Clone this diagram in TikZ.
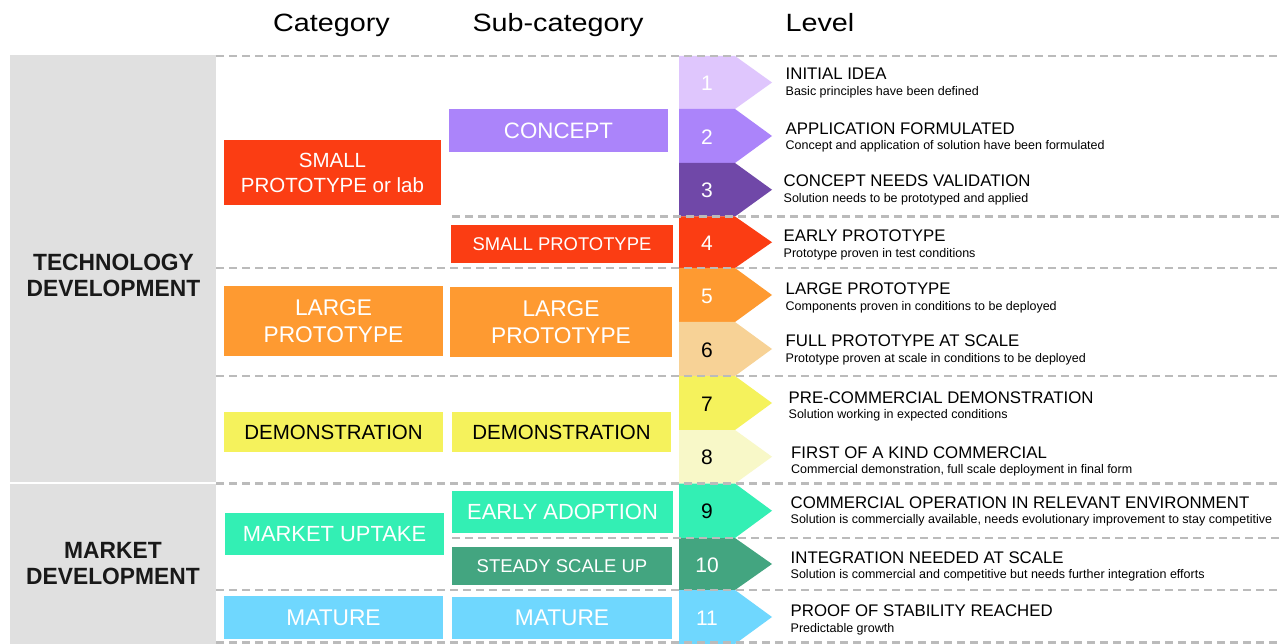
\documentclass[tikz,border=0pt]{standalone}
\usepackage{fontspec}
\setmainfont{Liberation Sans}
\newfontfamily\hdrfont[FakeStretch=1.15]{Liberation Sans}
\newfontfamily\devfont[FakeStretch=0.97]{Liberation Sans}
\definecolor{lv1}{HTML}{DFC6FD}
\definecolor{lv2}{HTML}{AB84FA}
\definecolor{lv3}{HTML}{7048A8}
\definecolor{lv4}{HTML}{FB3D13}
\definecolor{lv5}{HTML}{FE9A31}
\definecolor{lv6}{HTML}{F7D296}
\definecolor{lv7}{HTML}{F5F25C}
\definecolor{lv8}{HTML}{F8F8C8}
\definecolor{lv9}{HTML}{33EFB4}
\definecolor{lv10}{HTML}{43A580}
\definecolor{lv11}{HTML}{6FD7FE}
\definecolor{gcol}{HTML}{E0E0E0}
\definecolor{dashcol}{HTML}{BBBBBB}
\tikzset{
  hdr/.style={anchor=base, inner sep=0pt, font=\hdrfont\fontsize{25}{28}\selectfont},
  devtxt/.style={inner sep=0pt, align=center, font=\devfont\bfseries\fontsize{23.5}{26.5}\selectfont, text=black!90},
  box/.style={inner sep=0pt, outer sep=0pt, align=center, text=white},
  dashline/.style={draw=dashcol, line width=2.2pt, dash pattern=on 8pt off 5pt},
  numtxt/.style={inner sep=0pt, font=\fontsize{21}{21}\selectfont},
  lvltitle/.style={anchor=base west, inner sep=0pt, font=\fontsize{16.8}{18}\selectfont},
  lvlsub/.style={anchor=base west, inner sep=0pt, font=\fontsize{12.5}{14}\selectfont},
}
\newcommand\mylevel[9]{%
  \fill[#4] (679,#2) -- (735,#2) -- (772,{(#2+#3)/2}) -- (735,#3) -- (679,#3) -- cycle;
  \node[numtxt, text=#5] (num#1) at (707,{(#2+#3)/2+1}) {#1};
  \node[lvltitle] (title#1) at (#6,#7) {#8};
  \node[lvlsub] (sub#1) at (#6,#7+15.5) {#9};
}
\begin{document}
\begin{tikzpicture}[x=1pt,y=-1pt]
\useasboundingbox[fill=white] (0,0) rectangle (1280,644);
% headers
\node[hdr] (hcat) at (331.5,32) {Category};
\node[hdr] (hsub) at (558,32) {Sub-category};
\node[hdr] (hlvl) at (820,32) {Level};
% gray columns
\fill[gcol] (10,55) rectangle (216,482);
\fill[gcol] (10,484) rectangle (216,644);
\node[devtxt] (tech) at (113.5,275.5) {TECHNOLOGY\\DEVELOPMENT};
\node[devtxt] (market) at (113,563.5) {MARKET\\DEVELOPMENT};
% levels
\mylevel{1}{56}{109}{lv1}{white}{785.5}{80}{INITIAL IDEA}{Basic principles have been defined}
\mylevel{2}{109}{163}{lv2}{white}{785.5}{134.5}{APPLICATION FORMULATED}{Concept and application of solution have been formulated}
\mylevel{3}{163}{216.5}{lv3}{white}{783.5}{187}{CONCEPT NEEDS VALIDATION}{Solution needs to be prototyped and applied}
\mylevel{4}{216.5}{268}{lv4}{white}{783.5}{242}{EARLY PROTOTYPE}{Prototype proven in test conditions}
\mylevel{5}{268}{322}{lv5}{white}{785.5}{295}{LARGE PROTOTYPE}{Components proven in conditions to be deployed}
\mylevel{6}{322}{376}{lv6}{black}{785.5}{347}{FULL PROTOTYPE AT SCALE}{Prototype proven at scale in conditions to be deployed}
\mylevel{7}{376}{430}{lv7}{black}{788.5}{403}{PRE-COMMERCIAL DEMONSTRATION}{Solution working in expected conditions}
\mylevel{8}{430}{483.5}{lv8}{black}{791}{458}{FIRST OF A KIND COMMERCIAL}{Commercial demonstration, full scale deployment in final form}
\mylevel{9}{483.5}{538}{lv9}{black}{790.5}{508}{COMMERCIAL OPERATION IN RELEVANT ENVIRONMENT}{Solution is commercially available, needs evolutionary improvement to stay competitive}
\mylevel{10}{538}{590}{lv10}{white}{790.5}{563}{INTEGRATION NEEDED AT SCALE}{Solution is commercial and competitive but needs further integration efforts}
\mylevel{11}{590}{644}{lv11}{white}{790.5}{616.5}{PROOF OF STABILITY REACHED}{Predictable growth}
% category boxes
\node[box, fill=lv4, minimum width=217pt, minimum height=65pt, font=\fontsize{20.5}{25}\selectfont] (catsmall) at (332.5,172.5) {SMALL\\PROTOTYPE or lab};
\node[box, fill=lv5, minimum width=219pt, minimum height=70pt, font=\fontsize{22.7}{27}\selectfont] (catlarge) at (333.5,321) {LARGE\\PROTOTYPE};
\node[box, fill=lv7, text=black, minimum width=219pt, minimum height=40pt, font=\fontsize{20.5}{24}\selectfont] (catdemo) at (333.5,432) {DEMONSTRATION};
\node[box, fill=lv9, minimum width=219pt, minimum height=42pt, font=\fontsize{21.9}{24}\selectfont] (catmarket) at (334.5,534) {MARKET UPTAKE};
\node[box, fill=lv11, minimum width=219pt, minimum height=43pt, font=\fontsize{22.7}{24}\selectfont] (catmature) at (333.5,617.5) {MATURE};
% sub-category boxes
\node[box, fill=lv2, minimum width=219pt, minimum height=43pt, font=\fontsize{22.3}{24}\selectfont] (subconcept) at (558.5,130.5) {CONCEPT};
\node[box, fill=lv4, minimum width=222pt, minimum height=38pt, font=\fontsize{18.4}{22}\selectfont] (subsmall) at (562,244) {SMALL PROTOTYPE};
\node[box, fill=lv5, minimum width=222pt, minimum height=70pt, font=\fontsize{22.7}{27}\selectfont] (sublarge) at (561,322) {LARGE\\PROTOTYPE};
\node[box, fill=lv7, text=black, minimum width=219pt, minimum height=40pt, font=\fontsize{20.5}{24}\selectfont] (subdemo) at (561.5,432) {DEMONSTRATION};
\node[box, fill=lv9, minimum width=221pt, minimum height=42pt, font=\fontsize{21.9}{24}\selectfont] (subearly) at (562.5,512) {EARLY ADOPTION};
\node[box, fill=lv10, minimum width=220pt, minimum height=38pt, font=\fontsize{18.5}{22}\selectfont] (substeady) at (562,566) {STEADY SCALE UP};
\node[box, fill=lv11, minimum width=220pt, minimum height=42pt, font=\fontsize{22.7}{24}\selectfont] (submature) at (562,618) {MATURE};
% dashed separators
\draw[dashline] (216,56) -- (1280,56);
\draw[dashline] (452,216.5) -- (1280,216.5);
\draw[dashline] (216,268) -- (1280,268);
\draw[dashline] (216,376) -- (1280,376);
\draw[dashline] (216,483.5) -- (1280,483.5);
\draw[dashline] (452,538) -- (1280,538);
\draw[dashline] (216,590) -- (1280,590);
\draw[dashline] (216,642.5) -- (1280,642.5);
\end{tikzpicture}
\end{document}
